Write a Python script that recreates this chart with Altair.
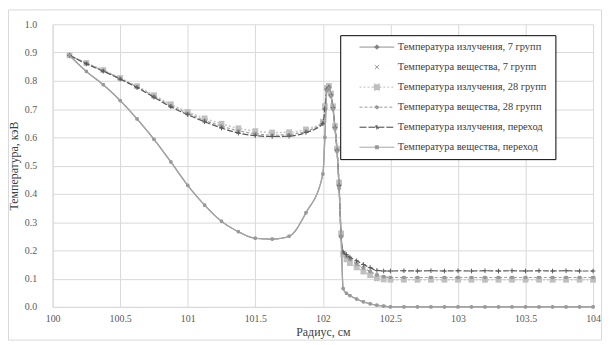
import altair as alt
import pandas as pd

SERIES = [
    "Температура излучения, 7 групп",
    "Температура вещества, 7 групп",
    "Температура излучения, 28 групп",
    "Температура вещества, 28 групп",
    "Температура излучения, переход",
    "Температура вещества, переход",
]

X_LEFT = [100.125, 100.25, 100.375, 100.5, 100.625, 100.75, 100.875, 101.0,
          101.125, 101.25, 101.375, 101.5, 101.625, 101.75, 101.875, 102.0]
X_PEAK = [102.015, 102.03, 102.045, 102.06, 102.075, 102.09, 102.105, 102.12, 102.135]
X_TAIL = [102.15, 102.175, 102.2, 102.25, 102.3, 102.35, 102.4, 102.45,
          102.5, 102.6, 102.7, 102.8, 102.9, 103.0, 103.1, 103.2,
          103.3, 103.4, 103.5, 103.6, 103.7, 103.8, 103.9, 104.0]

# lower curve (radiation, 7 groups / matter, transition)
LOW_LEFT = [0.89, 0.833, 0.786, 0.73, 0.665, 0.593, 0.513, 0.43,
            0.36, 0.303, 0.266, 0.243, 0.24, 0.25, 0.333, 0.47]
LOW_PEAK = [0.6, 0.765, 0.775, 0.745, 0.7, 0.63, 0.55, 0.42, 0.25]
ZERO_TAIL = [0.065, 0.048, 0.04, 0.028, 0.018, 0.011, 0.006, 0.003,
             0.0, 0.0, 0.0, 0.0, 0.0, 0.0, 0.0, 0.0,
             0.0, 0.0, 0.0, 0.0, 0.0, 0.0, 0.0, 0.0]

# upper curves
UP_LEFT = [0.89, 0.862, 0.836, 0.808, 0.778, 0.745, 0.712, 0.685,
           0.66, 0.64, 0.623, 0.613, 0.608, 0.61, 0.622, 0.652]
UP3_LEFT = [0.89, 0.863, 0.838, 0.81, 0.781, 0.749, 0.717, 0.69,
            0.667, 0.648, 0.632, 0.622, 0.617, 0.618, 0.628, 0.655]
UP5_LEFT = [0.89, 0.86, 0.834, 0.806, 0.776, 0.742, 0.708, 0.68,
            0.655, 0.633, 0.615, 0.606, 0.603, 0.604, 0.617, 0.648]
UP_PEAK = [0.7, 0.77, 0.778, 0.75, 0.705, 0.635, 0.555, 0.43, 0.25]
UP3_PEAK = [0.71, 0.775, 0.782, 0.755, 0.71, 0.64, 0.56, 0.44, 0.26]

T2_TAIL = [0.19, 0.176, 0.165, 0.15, 0.136, 0.123, 0.111, 0.105,
           0.102, 0.102, 0.102, 0.102, 0.102, 0.102, 0.102, 0.102,
           0.102, 0.102, 0.102, 0.102, 0.102, 0.102, 0.102, 0.102]
T3_TAIL = [0.185, 0.168, 0.155, 0.14, 0.125, 0.112, 0.101, 0.097,
           0.096, 0.096, 0.096, 0.096, 0.096, 0.096, 0.096, 0.096,
           0.096, 0.096, 0.096, 0.096, 0.096, 0.096, 0.096, 0.096]
T4_TAIL = [0.19, 0.178, 0.168, 0.152, 0.138, 0.125, 0.113, 0.107,
           0.104, 0.104, 0.104, 0.104, 0.104, 0.104, 0.104, 0.104,
           0.104, 0.104, 0.104, 0.104, 0.104, 0.104, 0.104, 0.104]
T5_TAIL = [0.195, 0.185, 0.176, 0.163, 0.15, 0.139, 0.129, 0.127,
           0.127, 0.128, 0.127, 0.128, 0.127, 0.128, 0.127, 0.128,
           0.127, 0.128, 0.127, 0.128, 0.127, 0.128, 0.127, 0.127]

VALUES = [
    LOW_LEFT + LOW_PEAK + ZERO_TAIL,
    UP_LEFT + UP_PEAK + T2_TAIL,
    UP3_LEFT + UP3_PEAK + T3_TAIL,
    UP_LEFT + UP_PEAK + T4_TAIL,
    UP5_LEFT + UP_PEAK + T5_TAIL,
    LOW_LEFT + LOW_PEAK + ZERO_TAIL,
]

X_TICKS = [100, 100.5, 101, 101.5, 102, 102.5, 103, 103.5, 104]
Y_TICKS = [0.0, 0.1, 0.2, 0.3, 0.4, 0.5, 0.6, 0.7, 0.8, 0.9, 1.0]

XS = X_LEFT + X_PEAK + X_TAIL
rows = []
for name, vals in zip(SERIES, VALUES):
    for xv, yv in zip(XS, vals):
        rows.append({"x": xv, "y": yv, "series": name})
df = pd.DataFrame(rows)

FONT = "Liberation Serif, Times New Roman, DejaVu Serif, serif"
PLUS = "M-1,0L1,0M0,-1L0,1"

STYLES = [
    dict(line="#8c8c8c", dash=[1, 0], lw=1.3, shape="diamond", size=14, filled=True, mc="#808080"),
    dict(line=None, dash=[1, 0], lw=1, shape="cross", size=22, filled=True, mc="#7f7f7f", angle=45),
    dict(line="#c8c8c8", dash=[2, 2], lw=1.6, shape="square", size=34, filled=True, mc="#c0c0c0"),
    dict(line="#a0a0a0", dash=[3, 2], lw=1.2, shape="circle", size=14, filled=True, mc="#999999"),
    dict(line="#595959", dash=[6, 2], lw=1.2, shape=PLUS, size=22, filled=False, mc="#595959"),
    dict(line="#a6a6a6", dash=[1, 0], lw=1.2, shape="square", size=10, filled=True, mc="#999999"),
]

xenc = alt.X("x:Q",
             scale=alt.Scale(domain=[100, 104], nice=False, zero=False),
             axis=alt.Axis(values=X_TICKS, format=".1~f", title="Радиус, см",
                           labelFlush=False, labelOverlap=False,
                           labelPadding=7, titlePadding=3))
yenc = alt.Y("y:Q",
             scale=alt.Scale(domain=[0, 1], nice=False),
             axis=alt.Axis(values=Y_TICKS, format=".1f", title="Температура, кэВ",
                           labelFlush=False, labelOverlap=False,
                           labelPadding=16, titlePadding=4))

base = alt.Chart(df)
layers = []

frame = alt.Chart(pd.DataFrame({"a": [0]})).mark_rect(
    fill="white", fillOpacity=0, stroke="#d9d9d9", strokeWidth=1
).encode(x=alt.value(-44.5), x2=alt.value(553.5), y=alt.value(-14.5), y2=alt.value(318.5))
layers.append(frame)

for name, st in zip(SERIES, STYLES):
    sub = base.transform_filter(alt.datum.series == name)
    if st["line"]:
        layers.append(sub.mark_line(color=st["line"], strokeDash=st["dash"],
                                    strokeWidth=st["lw"], interpolate="monotone")
                      .encode(x=xenc, y=yenc, order="x:Q"))
    pkw = dict(shape=st["shape"], size=st["size"], filled=st["filled"],
               color=st["mc"], opacity=1, strokeWidth=1)
    if "angle" in st:
        pkw["angle"] = st["angle"]
    layers.append(sub.mark_point(**pkw).encode(x=xenc, y=yenc))

LEG_COLORS = ["#808080", "#7f7f7f", "#bfbfbf", "#999999", "#404040", "#999999"]
LEG_PATHS = [
    "M-1,0L1,0M0,-0.13L0.13,0L0,0.13L-0.13,0Z",
    "M-0.12,-0.12L0.12,0.12M-0.12,0.12L0.12,-0.12",
    "M-1,0L1,0M-0.17,-0.17L0.17,-0.17L0.17,0.17L-0.17,0.17Z",
    "M-1,0L1,0M0.1,0A0.1,0.1,0,1,1,-0.1,0A0.1,0.1,0,1,1,0.1,0Z",
    "M-1,0L1,0M0,-0.13L0,0.13M-0.1,-0.08L0.1,0.08",
    "M-1,0L1,0M-0.09,-0.09L0.09,-0.09L0.09,0.09L-0.09,0.09Z",
]
LEG_DASH = [[1, 0], [1, 0], [2, 2], [3, 2], [7, 2], [1, 0]]

legend = alt.Legend(title="\u00a0\u00a0\u00a0\u00a0\u00a0\u00a0", titleOrient="right",
                    titleFontSize=10, titlePadding=4,
                    orient="none", legendX=290, legendY=11,
                    direction="vertical", strokeColor="black", fillColor="white",
                    padding=5, symbolSize=1225, symbolOffset=14, labelOffset=3,
                    clipHeight=14, rowPadding=6.2, symbolStrokeWidth=1,
                    labelFont=FONT, labelFontSize=10.5, labelColor="#404040",
                    labelLimit=300)

dummy = base.transform_filter("false").mark_point(filled=False, opacity=1).encode(
    x=xenc, y=yenc,
    color=alt.Color("series:N", scale=alt.Scale(domain=SERIES, range=LEG_COLORS), legend=legend),
    fill=alt.Fill("series:N", scale=alt.Scale(domain=SERIES, range=LEG_COLORS), legend=legend),
    shape=alt.Shape("series:N", scale=alt.Scale(domain=SERIES, range=LEG_PATHS), legend=legend),
    strokeDash=alt.StrokeDash("series:N", scale=alt.Scale(domain=SERIES, range=LEG_DASH), legend=legend),
)
layers.append(dummy)

chart = alt.layer(*layers).properties(
    width=545, height=285,
    autosize=alt.AutoSizeParams(type="none"),
    padding={"left": 45, "top": 15, "right": 10, "bottom": 36},
).configure_view(stroke=None).configure_axis(
    gridColor="#d9d9d9", domainColor="#d9d9d9", ticks=False,
    labelFont=FONT, labelFontSize=10, labelColor="#595959",
    titleFont=FONT, titleFontSize=12, titleFontWeight="normal", titleColor="#404040",
)

chart.save("out.html", embed_options={"renderer": "svg", "actions": False})
